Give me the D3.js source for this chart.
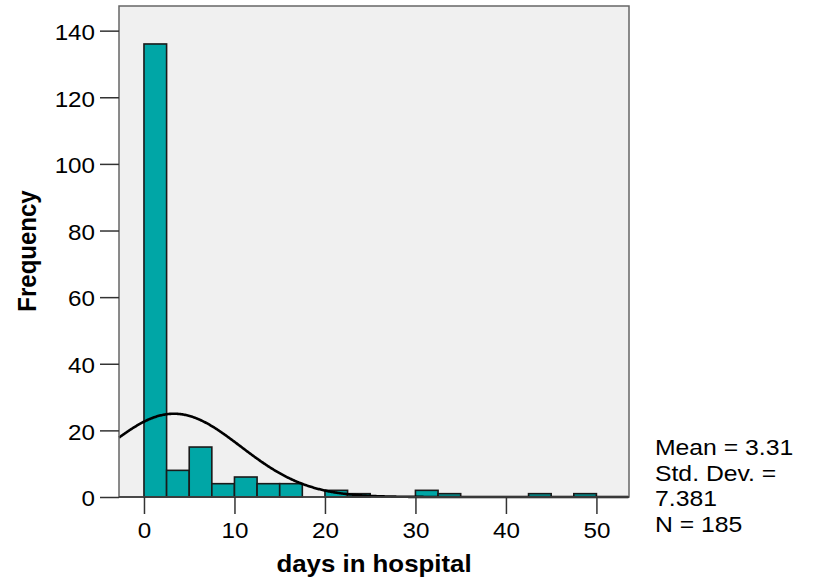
<!DOCTYPE html>
<html>
<head>
<meta charset="utf-8">
<script src="https://cdn.jsdelivr.net/npm/d3@7"></script>
<style>
  html, body { margin: 0; padding: 0; background: #fff; }
  text { font-family: "Liberation Sans", Arial, sans-serif; fill: #000; }
</style>
</head>
<body>
<svg id="chart" width="814" height="580"></svg>
<script>
// Histogram of length of stay, 2.5-day bins
const binStarts = [0, 2.5, 5, 7.5, 10, 12.5, 15, 17.5, 20, 22.5, 25, 27.5, 30, 32.5, 35, 37.5, 40, 42.5, 45, 47.5];
const binCounts = [136, 8, 15, 4, 6, 4, 4, 0, 2, 1, 0, 0, 2, 1, 0, 0, 0, 1, 0, 1];
const binWidth = 2.5;
const xTicks = [0, 10, 20, 30, 40, 50];
const yTicks = [0, 20, 40, 60, 80, 100, 120, 140];
const stats = { mean: 3.31, sd: 7.381, n: 185 };
const statLines = ["Mean = 3.31", "Std. Dev. =", "7.381", "N = 185"];

const svg = d3.select("#chart");
const plotL = 119, plotR = 629, plotT = 6, plotB = 497;
const stretch = 1.1; // text is drawn slightly wide

const x = d3.scaleLinear().domain([-2.76, 53.6]).range([plotL, plotR]);
const y = d3.scaleLinear().domain([0, 147.4]).range([plotB, plotT]);

// plot background
svg.append("rect")
  .attr("x", plotL).attr("y", plotT)
  .attr("width", plotR - plotL).attr("height", plotB - plotT)
  .attr("fill", "#f0f0f0");

// bars
const bins = binStarts.map((s, i) => ({ x0: s, x1: s + binWidth, count: binCounts[i] }))
  .filter(d => d.count > 0);
svg.append("g").selectAll("rect")
  .data(bins).join("rect")
  .attr("x", d => x(d.x0))
  .attr("y", d => y(d.count))
  .attr("width", d => x(d.x1) - x(d.x0))
  .attr("height", d => y(0) - y(d.count))
  .attr("fill", "#00a6a6")
  .attr("stroke", "#1a1a1a")
  .attr("stroke-width", 1.6);

// fitted normal curve scaled to counts
const scaleK = stats.n * binWidth / (stats.sd * Math.sqrt(2 * Math.PI));
const curvePts = d3.range(-2.76, 53.6, 0.1).map(v => [v, scaleK * Math.exp(-0.5 * Math.pow((v - stats.mean) / stats.sd, 2))]);
svg.append("path")
  .datum(curvePts)
  .attr("fill", "none")
  .attr("stroke", "#000")
  .attr("stroke-width", 2.6)
  .attr("d", d3.line().x(d => x(d[0])).y(d => y(d[1])));

// frame
svg.append("rect")
  .attr("x", plotL).attr("y", plotT)
  .attr("width", plotR - plotL).attr("height", plotB - plotT)
  .attr("fill", "none")
  .attr("stroke", "#666")
  .attr("stroke-width", 1.5);

// axes
const yAxis = d3.axisLeft(y).tickValues(yTicks).tickSize(19);
const gy = svg.append("g").attr("transform", `translate(${plotL},0)`).call(yAxis);
gy.select(".domain").remove();
gy.selectAll(".tick line").attr("stroke", "#333").attr("stroke-width", 1.5);
gy.selectAll(".tick text")
  .attr("font-size", 22).attr("font-family", "Liberation Sans, Arial, sans-serif")
  .attr("x", 0).attr("dy", "0.4em")
  .attr("transform", `translate(-24,0) scale(${stretch},1)`);

const xAxis = d3.axisBottom(x).tickValues(xTicks).tickSize(17);
const gx = svg.append("g").attr("transform", `translate(0,${plotB})`).call(xAxis);
gx.select(".domain").attr("stroke", "#333").attr("stroke-width", 1.5).attr("d", `M${plotL},0H${plotR}`);
gx.selectAll(".tick line").attr("stroke", "#333").attr("stroke-width", 1.5);
gx.selectAll(".tick text")
  .attr("font-size", 22).attr("font-family", "Liberation Sans, Arial, sans-serif")
  .attr("y", 0).attr("dy", 0)
  .attr("transform", `translate(0,41) scale(${stretch},1)`);

// axis titles
svg.append("text")
  .attr("transform", `translate(374,572) scale(${stretch},1)`)
  .attr("text-anchor", "middle")
  .attr("font-size", 23.5).attr("font-weight", "bold")
  .text("days in hospital");

svg.append("text")
  .attr("transform", `translate(36,251) rotate(-90) scale(1,${stretch})`)
  .attr("text-anchor", "middle")
  .attr("font-size", 24).attr("font-weight", "bold")
  .text("Frequency");

// summary statistics
svg.append("g").selectAll("text")
  .data(statLines).join("text")
  .attr("transform", (d, i) => `translate(655,${455 + i * 25.5}) scale(${stretch},1)`)
  .attr("font-size", 22.5)
  .text(d => d);
</script>
</body>
</html>
